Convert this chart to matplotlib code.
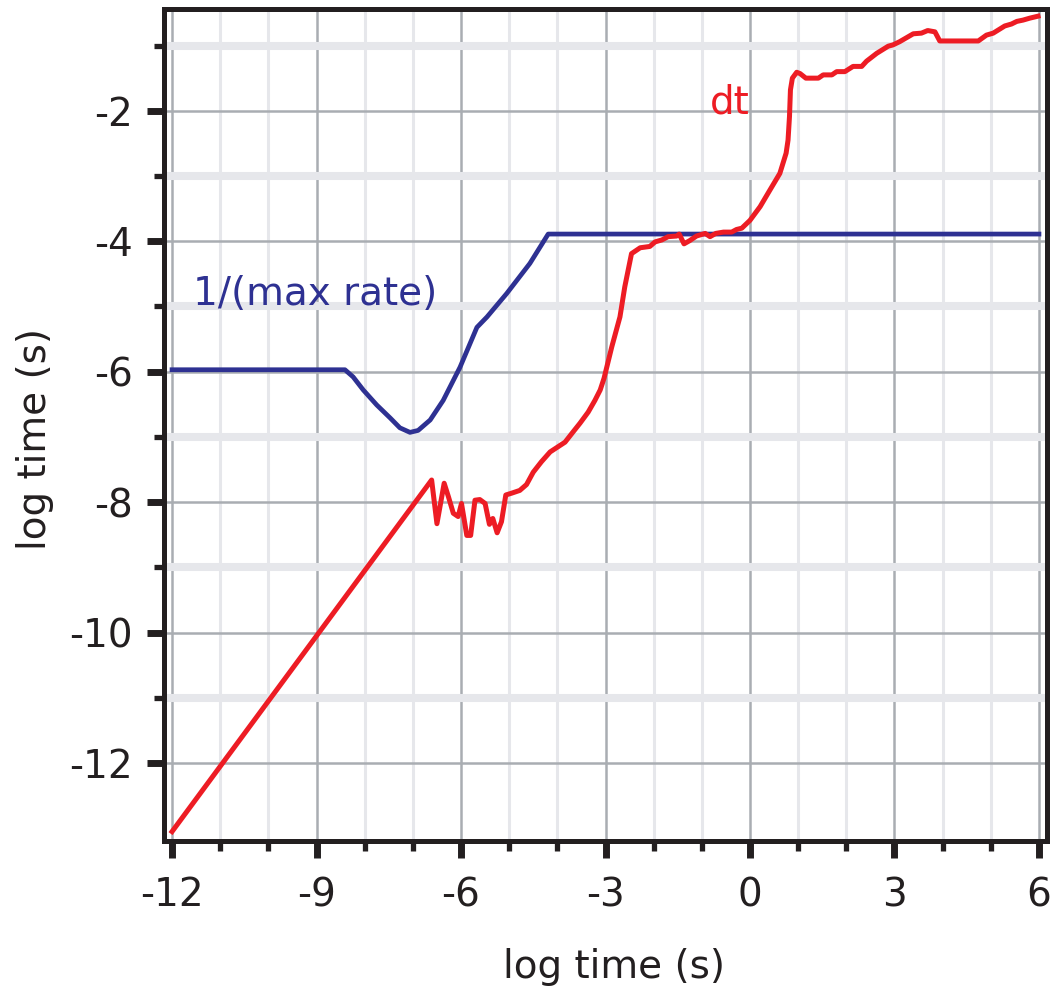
import matplotlib
matplotlib.use("Agg")
import matplotlib.pyplot as plt
from matplotlib.ticker import MultipleLocator, FixedLocator

# values (log10 seconds)
rate_x = [-12.0, -8.41, -8.24, -8.03, -7.75, -7.47, -7.27, -7.06, -6.89, -6.64,
          -6.37, -6.02, -5.67, -5.46, -5.05, -4.57, -4.19, 6.0]
rate_y = [-5.97, -5.97, -6.08, -6.28, -6.51, -6.71, -6.86, -6.93, -6.90, -6.74,
          -6.44, -5.93, -5.32, -5.16, -4.80, -4.34, -3.89, -3.89]

dt_x = [-12.0, -6.61, -6.50, -6.35, -6.26, -6.16, -6.06, -5.99, -5.88, -5.80,
        -5.71, -5.61, -5.50, -5.41, -5.34, -5.25, -5.16, -5.07, -4.94, -4.78,
        -4.64, -4.50, -4.33, -4.15, -3.84, -3.67, -3.53, -3.36, -3.22, -3.11,
        -3.03, -2.87, -2.70, -2.60, -2.46, -2.28, -2.08, -1.97, -1.83, -1.70,
        -1.52, -1.47, -1.37, -1.25, -1.11, -0.93, -0.83, -0.71, -0.55, -0.38,
        -0.28, -0.17, 0.0, 0.21, 0.41, 0.62, 0.75, 0.79, 0.82, 0.84,
        0.88, 0.97, 1.04, 1.16, 1.42, 1.52, 1.70, 1.80, 1.97, 2.14,
        2.32, 2.42, 2.63, 2.87, 2.97, 3.11, 3.39, 3.56, 3.69, 3.84,
        3.94, 4.22, 4.74, 4.91, 5.05, 5.29, 5.43, 5.54, 5.67, 5.81, 5.98]
dt_y = [-13.05, -7.66, -8.33, -7.71, -7.92, -8.17, -8.22, -8.02, -8.51, -8.51,
        -7.97, -7.96, -8.02, -8.34, -8.25, -8.47, -8.30, -7.89, -7.86, -7.82,
        -7.73, -7.54, -7.38, -7.23, -7.08, -6.92, -6.79, -6.62, -6.44, -6.28,
        -6.10, -5.62, -5.16, -4.70, -4.19, -4.10, -4.08, -4.01, -3.98, -3.93,
        -3.92, -3.89, -4.04, -3.99, -3.92, -3.88, -3.93, -3.88, -3.86, -3.86,
        -3.82, -3.80, -3.68, -3.47, -3.22, -2.96, -2.65, -2.45, -2.09, -1.68,
        -1.50, -1.41, -1.43, -1.50, -1.50, -1.45, -1.45, -1.40, -1.40, -1.32,
        -1.32, -1.24, -1.12, -1.01, -0.99, -0.94, -0.82, -0.81, -0.77, -0.79,
        -0.93, -0.93, -0.93, -0.84, -0.81, -0.70, -0.67, -0.63, -0.61, -0.58, -0.55]

x_ticks = [-12, -9, -6, -3, 0, 3, 6]
y_ticks = [-12, -10, -8, -6, -4, -2]
y_minor = [-11, -9, -7, -5, -3, -1]

BLUE = "#2e3192"
RED = "#ed1c24"
INK = "#231f20"
MAJOR_GRID = "#a9adb2"
MINOR_GRID = "#e6e7eb"

plt.rcParams["font.family"] = ["DejaVu Sans"]

fig = plt.figure(figsize=(10.57, 9.94), dpi=100)
ax = fig.add_axes([0.1552, 0.1542, 0.8353, 0.8372])
ax.set_xlim(-12.166, 6.166)
ax.set_ylim(-13.19, -0.433)

ax.set_xticks(x_ticks)
ax.set_xticklabels([str(v) for v in x_ticks])
ax.xaxis.set_minor_locator(MultipleLocator(1))
ax.set_yticks(y_ticks)
ax.set_yticklabels([str(v) for v in y_ticks])
ax.yaxis.set_minor_locator(FixedLocator(y_minor))

ax.set_axisbelow(True)
ax.grid(which="minor", axis="x", color=MINOR_GRID, lw=2.2)
ax.grid(which="minor", axis="y", color=MINOR_GRID, lw=5.8)
ax.grid(which="major", axis="both", color=MAJOR_GRID, lw=1.8)

ax.plot(rate_x, rate_y, color=BLUE, lw=3.4, solid_joinstyle="round")
ax.plot(dt_x, dt_y, color=RED, lw=3.6, solid_joinstyle="round")

ax.text(-11.56, -4.98, "1/(max rate)", color=BLUE, fontsize=28)
ax.text(-0.83, -2.04, "dt", color=RED, fontsize=28)

for s in ax.spines.values():
    s.set_linewidth(3.6)
    s.set_color(INK)

ax.tick_params(which="major", direction="out", length=12.5, width=5,
               color=INK, labelsize=28, labelcolor=INK)
ax.tick_params(which="major", axis="x", pad=13)
ax.tick_params(which="major", axis="y", pad=10)
ax.tick_params(which="minor", direction="out", length=7, width=3.8, color=INK)

fig.text(614 / 1057, 1 - 967 / 994, "log time (s)", fontsize=28, color=INK,
         ha="center", va="center")
fig.text(35 / 1057, 1 - 439 / 994, "log time (s)", fontsize=28, color=INK,
         ha="center", va="center", rotation=90)

fig.savefig("out.png", dpi=100)
